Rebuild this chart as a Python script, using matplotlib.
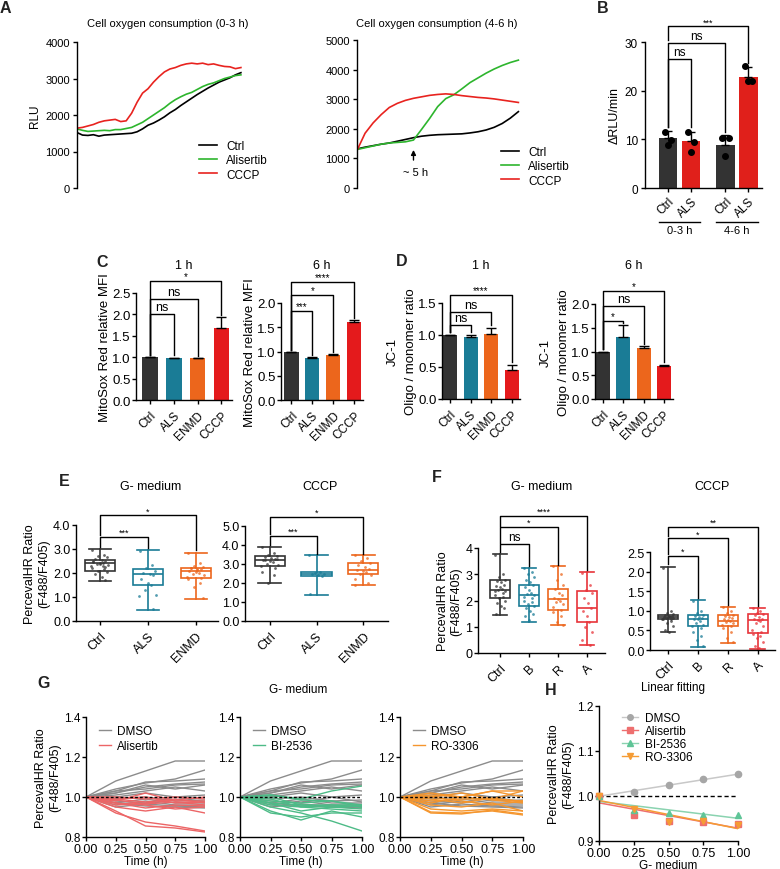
"""
plot.py - multi-panel figure: oxygen consumption, ROS / JC-1 bars, PercevalHR boxes and traces.
"""

import matplotlib
matplotlib.use("Agg")
import matplotlib.pyplot as plt
import matplotlib.transforms as mtransforms
from matplotlib.lines import Line2D
import numpy as np

plt.rcParams["font.family"] = ["Liberation Sans", "DejaVu Sans"]
plt.rcParams["axes.linewidth"] = 1.0
plt.rcParams["xtick.major.width"] = 1.0
plt.rcParams["ytick.major.width"] = 1.0
plt.rcParams["xtick.major.size"] = 3
plt.rcParams["ytick.major.size"] = 3

W, H = 780, 870

# ---------------- data ----------------
# A: oxygen consumption traces (RLU)
a_time_early = np.round(np.arange(0, 3.01, 0.1), 2)
a_ctrl_early = [1520, 1450, 1440, 1460, 1420, 1450, 1460, 1470, 1480, 1490, 1500, 1540, 1620, 1720, 1780, 1860,
                1950, 2060, 2150, 2260, 2360, 2460, 2560, 2650, 2740, 2820, 2900, 2960, 3020, 3100, 3160]
a_als_early = [1620, 1580, 1550, 1560, 1570, 1580, 1570, 1600, 1600, 1630, 1660, 1730, 1800, 1900, 2000, 2100,
               2200, 2320, 2420, 2500, 2570, 2620, 2700, 2780, 2840, 2880, 2940, 3000, 3040, 3080, 3100]
a_cccp_early = [1640, 1660, 1700, 1740, 1800, 1840, 1860, 1880, 1820, 1840, 2050, 2350, 2600, 2720, 2900, 3050,
                3180, 3260, 3300, 3360, 3400, 3420, 3400, 3420, 3380, 3400, 3360, 3330, 3320, 3270, 3300]
a_time_late = np.round(np.arange(4, 6.01, 0.1), 2)
a_ctrl_late = [1320, 1380, 1430, 1480, 1520, 1580, 1640, 1700, 1750, 1780, 1800, 1810, 1820, 1830, 1860, 1900,
               1960, 2050, 2180, 2360, 2580]
a_als_late = [1300, 1360, 1420, 1480, 1520, 1540, 1560, 1620, 1980, 2350, 2750, 3020, 3150, 3350, 3560, 3720,
              3880, 4020, 4140, 4240, 4320]
a_cccp_late = [1270, 1850, 2200, 2480, 2720, 2860, 2960, 3030, 3080, 3130, 3160, 3180, 3160, 3120, 3090, 3060,
               3040, 3010, 2970, 2930, 2890]

# B: delta RLU/min
b_labels = ["Ctrl", "ALS", "Ctrl", "ALS"]
b_means = [10.2, 9.6, 8.9, 22.8]
b_sd = [1.6, 2.0, 2.0, 2.0]
b_points = [[11.6, 9.9, 8.9], [11.5, 9.4, 7.5], [10.3, 10.3, 6.6], [25.0, 22.0, 22.0]]

# C / D: bar means with upper error
cd_labels = ["Ctrl", "ALS", "ENMD", "CCCP"]
c1_means = [1.0, 0.98, 0.97, 1.68]
c1_err = [0.0, 0.01, 0.01, 0.25]
c6_means = [1.0, 0.86, 0.92, 1.61]
c6_err = [0.0, 0.02, 0.02, 0.04]
d1_means = [1.0, 0.97, 1.01, 0.46]
d1_err = [0.0, 0.03, 0.10, 0.07]
d6_means = [1.0, 1.31, 1.07, 0.70]
d6_err = [0.0, 0.25, 0.04, 0.02]

# E / F: box statistics (whislo, q1, med, q3, whishi) and cell values
e_labels = ["Ctrl", "ALS", "ENMD"]
e_g_stats = [[1.65, 2.08, 2.40, 2.55, 3.00], [0.45, 1.50, 1.95, 2.15, 2.95], [0.90, 1.80, 2.10, 2.20, 2.85]]
e_c_stats = [[2.00, 2.90, 3.20, 3.40, 3.90], [1.35, 2.35, 2.50, 2.60, 3.45], [1.90, 2.50, 2.70, 3.05, 3.45]]
e_g_cells = [
    [2.95, 2.75, 2.7, 2.65, 2.6, 2.55, 2.5, 2.45, 2.42, 2.4, 2.38, 2.35, 2.3, 2.25, 2.2, 2.15, 2.1, 2.05, 1.95,
     1.85, 1.7, 2.48, 2.36, 2.28],
    [2.9, 2.35, 2.2, 2.1, 2.0, 1.95, 1.9, 1.75, 1.6, 1.5, 1.3, 1.1, 1.05, 0.5],
    [2.85, 2.4, 2.3, 2.25, 2.2, 2.18, 2.15, 2.1, 2.05, 2.0, 1.95, 1.9, 1.85, 1.8, 1.75, 1.6, 1.4, 0.95, 2.22, 2.12],
]
e_c_cells = [
    [3.9, 3.6, 3.45, 3.4, 3.35, 3.3, 3.25, 3.2, 3.15, 3.1, 3.0, 2.95, 2.9, 2.8, 2.6, 2.4, 2.0, 3.28, 3.22],
    [3.45, 2.6, 2.55, 2.5, 2.45, 2.4, 2.35, 1.4],
    [3.45, 3.3, 3.15, 3.05, 2.95, 2.85, 2.75, 2.7, 2.65, 2.6, 2.5, 2.4, 2.2, 2.0, 1.9],
]
f_labels = ["Ctrl", "B", "R", "A"]
f_g_stats = [[1.45, 2.10, 2.40, 2.78, 3.78], [1.20, 1.80, 2.20, 2.60, 3.25], [1.05, 1.65, 2.05, 2.45, 3.30],
             [0.30, 1.20, 1.70, 2.35, 3.07]]
f_c_stats = [[0.45, 0.78, 0.83, 0.90, 2.12], [0.07, 0.60, 0.78, 0.90, 1.27], [0.18, 0.60, 0.75, 0.90, 1.10],
             [0.03, 0.43, 0.77, 0.93, 1.07]]
f_g_cells = [
    [3.75, 3.0, 2.9, 2.8, 2.75, 2.7, 2.6, 2.55, 2.5, 2.45, 2.4, 2.38, 2.35, 2.3, 2.2, 2.15, 2.1, 2.0, 1.9, 1.8,
     1.7, 1.5],
    [3.25, 3.1, 3.0, 2.9, 2.8, 2.7, 2.6, 2.5, 2.4, 2.3, 2.25, 2.2, 2.15, 2.1, 2.0, 1.95, 1.85, 1.8, 1.7, 1.6, 1.5,
     1.4, 1.25],
    [3.3, 3.0, 2.8, 2.6, 2.45, 2.3, 2.2, 2.1, 2.05, 2.0, 1.95, 1.85, 1.75, 1.65, 1.55, 1.4, 1.2, 1.05],
    [3.05, 2.6, 2.4, 2.3, 2.1, 1.9, 1.7, 1.6, 1.4, 1.2, 1.0, 0.8, 0.5, 0.3],
]
f_c_cells = [
    [2.1, 1.0, 0.95, 0.92, 0.9, 0.88, 0.86, 0.85, 0.84, 0.83, 0.82, 0.81, 0.8, 0.79, 0.78, 0.75, 0.7, 0.6, 0.5,
     0.45],
    [1.25, 1.0, 0.95, 0.9, 0.88, 0.85, 0.82, 0.8, 0.78, 0.75, 0.7, 0.65, 0.6, 0.55, 0.45, 0.35, 0.25, 0.1],
    [1.1, 1.0, 0.95, 0.9, 0.87, 0.85, 0.82, 0.8, 0.77, 0.75, 0.72, 0.7, 0.65, 0.6, 0.55, 0.45, 0.3, 0.2],
    [1.07, 1.0, 0.95, 0.93, 0.9, 0.85, 0.8, 0.78, 0.77, 0.75, 0.7, 0.6, 0.5, 0.45, 0.4, 0.35, 0.3, 0.2, 0.1, 0.05],
]

# G: single-cell PercevalHR traces
g_time = [0.0, 0.25, 0.5, 0.75, 1.0]
g_dmso = [
    [1.0, 1.08, 1.13, 1.18, 1.18], [1.0, 1.04, 1.07, 1.09, 1.135], [1.0, 1.03, 1.075, 1.08, 1.09],
    [1.0, 1.02, 1.05, 1.065, 1.075], [1.0, 1.03, 1.04, 1.06, 1.065], [1.0, 1.02, 1.06, 1.04, 1.06],
    [1.0, 1.01, 1.03, 1.05, 1.03], [1.0, 1.0, 1.02, 1.0, 1.01], [1.0, 0.99, 1.0, 0.98, 0.985],
    [1.0, 0.98, 0.97, 1.0, 0.975], [1.0, 0.97, 0.99, 0.97, 0.97], [1.0, 0.96, 0.98, 0.96, 0.96],
    [1.0, 0.95, 0.965, 0.955, 0.95], [1.0, 0.97, 0.955, 0.95, 0.945],
]
g_alisertib = [
    [1.0, 0.92, 0.875, 0.855, 0.83], [1.0, 0.93, 0.855, 0.845, 0.825], [1.0, 0.95, 0.93, 0.95, 0.92],
    [1.0, 0.97, 0.96, 0.94, 0.95], [1.0, 0.98, 1.02, 0.98, 0.98], [1.0, 1.0, 0.99, 1.0, 0.99],
    [1.0, 0.99, 0.975, 0.99, 0.97], [1.0, 0.985, 0.965, 0.975, 0.96], [1.0, 0.96, 0.97, 0.985, 1.0],
    [1.0, 0.99, 1.0, 0.97, 0.975], [1.0, 0.97, 0.945, 0.96, 0.955],
]
g_bi2536 = [
    [1.0, 1.01, 0.99, 1.03, 1.055], [1.0, 0.95, 0.92, 0.88, 0.83], [1.0, 0.93, 0.885, 0.93, 0.90],
    [1.0, 0.92, 0.90, 0.92, 0.92], [1.0, 0.96, 0.95, 0.94, 0.93], [1.0, 0.97, 0.96, 0.95, 0.94],
    [1.0, 1.0, 0.96, 0.96, 0.95], [1.0, 0.98, 0.97, 0.98, 0.95], [1.0, 0.99, 0.95, 0.96, 0.96],
    [1.0, 1.01, 0.985, 0.98, 0.96], [1.0, 0.97, 0.93, 0.95, 0.955],
]
g_ro3306 = [
    [1.0, 1.02, 1.0, 1.03, 1.03], [1.0, 1.0, 1.02, 0.99, 1.03], [1.0, 1.01, 1.0, 1.03, 1.0],
    [1.0, 0.98, 0.99, 0.99, 0.98], [1.0, 0.99, 0.97, 0.995, 0.975], [1.0, 0.96, 0.95, 0.97, 0.93],
    [1.0, 0.94, 0.93, 0.94, 0.93], [1.0, 0.92, 0.915, 0.935, 0.915], [1.0, 0.925, 0.92, 0.93, 0.91],
    [1.0, 1.0, 0.98, 0.96, 0.98], [1.0, 0.97, 1.0, 0.985, 0.97],
]

# H: mean ratio over time
h_time = [0.0, 0.25, 0.5, 0.75, 1.0]
h_dmso = [1.0, 1.01, 1.025, 1.037, 1.048]
h_alisertib = [1.0, 0.958, 0.945, 0.943, 0.937]
h_bi2536 = [1.0, 0.968, 0.962, 0.958, 0.958]
h_ro3306 = [1.0, 0.972, 0.942, 0.945, 0.935]

# ---------------- style ----------------
C_BLACK = "#333333"
C_TEAL = "#1a7c96"
C_ORANGE = "#ec661c"
C_RED = "#e41a1c"
BOX_COLORS_E = ["#333333", "#1a7c96", "#ec661c"]
BOX_COLORS_F = ["#333333", "#1a7c96", "#ec661c", "#e8343a"]
JITTER = [-0.2, 0.1, -0.05, 0.18, -0.12, 0.04, 0.14, -0.17, 0.0, 0.08, -0.08, 0.2, -0.22, 0.12]

fig = plt.figure(figsize=(W / 100, H / 100), dpi=100)


def px_axes(l, t, r, b):
    ax = fig.add_axes([l / W, 1 - b / H, (r - l) / W, (b - t) / H])
    ax.spines["top"].set_visible(False)
    ax.spines["right"].set_visible(False)
    return ax


def fig_text(x, y, s, **kw):
    fig.text(x / W, 1 - y / H, s, **kw)


def letter(x, y, s):
    fig_text(x, y, s, fontsize=11.5, fontweight="bold", ha="left", va="top", color="#222222")


def bracket(ax, x1, x2, y, y1, y2, label, fs):
    ax.plot([x1, x1, x2, x2], [y1, y, y, y2], color="k", lw=1, clip_on=False)
    ax.annotate(label, ((x1 + x2) / 2, y), xytext=(0, 1 if label == "ns" else 0), textcoords="offset points",
                ha="center", va="bottom", fontsize=fs, annotation_clip=False)


# ---------------- A ----------------
letter(0, 1, "A")
for (l, r), t_arr, series, ymax, title, leg_xy in [
    ((77, 242), a_time_early, [a_ctrl_early, a_als_early, a_cccp_early], 4000, "Cell oxygen consumption (0-3 h)",
     (193, 135)),
    ((357, 520), a_time_late, [a_ctrl_late, a_als_late, a_cccp_late], 5000, "Cell oxygen consumption (4-6 h)",
     (495, 141)),
]:
    top = 43 if ymax == 4000 else 41
    ax = px_axes(l, top, r, 189)
    for vals, col, lab in zip(series, ["k", "#2db52d", "#e8231f"], ["Ctrl", "Alisertib", "CCCP"]):
        ax.plot(t_arr, vals, color=col, lw=1.2, label=lab)
    ax.set_ylim(0, ymax)
    ax.set_xlim(t_arr[0], t_arr[-1] + 0.02)
    ax.set_yticks(np.arange(0, ymax + 1, 1000))
    ax.spines["bottom"].set_visible(False)
    ax.set_xticks([])
    ax.tick_params(axis="y", labelsize=8, pad=2)
    fig_text((l + r) / 2 + (8 if ymax == 4000 else -2), 24, title, ha="center", va="center", fontsize=8)
    if ymax == 4000:
        ax.set_ylabel("RLU", fontsize=8.5, labelpad=3)
    ax.legend(loc="upper left", frameon=False, fontsize=8.5, handlelength=1.5, handletextpad=0.8,
              labelspacing=0.2, borderpad=0,
              bbox_to_anchor=((leg_xy[0] - l) / (r - l), 1 - (leg_xy[1] - top) / (189 - top)))
    if ymax == 5000:
        ax.annotate("", xy=(4.7, 1380), xytext=(4.7, 850),
                    arrowprops=dict(arrowstyle="-|>", color="k", lw=1, mutation_scale=7))
        ax.text(4.72, 720, "~ 5 h", ha="center", va="top", fontsize=8)

# ---------------- B ----------------
letter(597, 1, "B")
axb = px_axes(645, 43, 762, 189)
b_x = [0, 1, 2.5, 3.5]
axb.bar(b_x, b_means, width=0.82, color=[C_BLACK, "#e0201b", C_BLACK, "#e0201b"],
        yerr=[[0, 0, 0, 0], b_sd], capsize=3, error_kw=dict(lw=1, capthick=1))
for xi, pts in zip(b_x, b_points):
    axb.scatter([xi - 0.15, xi + 0.15, xi][:len(pts)], pts, s=16, color="k", zorder=3)
axb.set_xlim(-1.0, 4.09)
axb.set_ylim(0, 30)
axb.set_yticks([0, 10, 20, 30])
axb.set_xticks(b_x)
axb.set_xticklabels(b_labels, rotation=45, ha="right", rotation_mode="anchor", fontsize=8)
axb.tick_params(labelsize=8.5, pad=2)
axb.set_ylabel("\u0394RLU/min", fontsize=9, labelpad=3)
bracket(axb, 0, 1, 26.5, 12.5, 12.5, "ns", 8.5)
bracket(axb, 0, 2.5, 29.8, 12.5, 11.5, "ns", 8.5)
bracket(axb, 0, 3.5, 33.2, 30.5, 25.7, "***", 6.5)
tb = mtransforms.blended_transform_factory(axb.transData, fig.transFigure)
for x1, x2, lab in [(-0.4, 1.4, "0-3 h"), (2.1, 3.9, "4-6 h")]:
    axb.add_line(Line2D([x1, x2], [1 - 223 / H] * 2, transform=tb, color="k", lw=1, clip_on=False))
    axb.text((x1 + x2) / 2, 1 - 226 / H, lab, transform=tb, ha="center", va="top", fontsize=8)

# ---------------- C / D ----------------
cd_colors = [C_BLACK, C_TEAL, C_ORANGE, C_RED]


def bar_panel(box, xlim, means, err, ymax, yticks, title, width):
    l, t, r, b = box
    ax = px_axes(l, t, r, b)
    xs = np.arange(4)
    ax.bar(xs, means, width=width, color=cd_colors, yerr=[[0] * 4, err], capsize=3.5,
           error_kw=dict(lw=1, capthick=1))
    ax.set_xlim(*xlim)
    ax.set_ylim(0, ymax)
    ax.set_yticks(yticks)
    ax.set_yticklabels([f"{v:.1f}" for v in yticks])
    ax.set_xticks(xs)
    ax.set_xticklabels(cd_labels, rotation=45, ha="right", rotation_mode="anchor", fontsize=8.5)
    ax.tick_params(axis="y", labelsize=9.5, pad=1)
    fig_text((l + r) / 2, 266, title, ha="center", va="center", fontsize=9)
    return ax


letter(96, 255, "C")
ax = bar_panel((136, 294, 232, 401), (-0.6, 3.45), c1_means, c1_err, 2.5, [0, 0.5, 1.0, 1.5, 2.0, 2.5], "1 h", 0.66)
ax.set_ylabel("MitoSox Red relative MFI", fontsize=9.5, labelpad=1)
bracket(ax, 0, 1, 2.0, 1.05, 1.05, "ns", 9)
bracket(ax, 0, 2, 2.35, 1.05, 1.03, "ns", 9)
bracket(ax, 0, 3, 2.78, 1.05, 1.98, "*", 7)
ax = bar_panel((281, 304, 363, 401), (-0.5, 3.42), c6_means, c6_err, 2.0, [0, 0.5, 1.0, 1.5, 2.0], "6 h", 0.68)
ax.set_ylabel("MitoSox Red relative MFI", fontsize=9.5, labelpad=1)
bracket(ax, 0, 1, 1.83, 1.04, 0.92, "***", 7)
bracket(ax, 0, 2, 2.17, 1.04, 0.98, "*", 7)
bracket(ax, 0, 3, 2.43, 1.04, 1.70, "****", 7)

letter(396, 254, "D")
ax = bar_panel((442, 304, 520, 400), (-0.4, 3.4), d1_means, d1_err, 1.5, [0, 0.5, 1.0, 1.5], "1 h", 0.7)
ax.set_ylabel("JC-1\nOligo / monomer ratio", fontsize=9.5, labelpad=1, linespacing=1.6)
bracket(ax, 0, 1, 1.15, 1.05, 1.04, "ns", 9)
bracket(ax, 0, 2, 1.36, 1.05, 1.15, "ns", 9)
bracket(ax, 0, 3, 1.62, 1.05, 0.58, "****", 7)
ax = bar_panel((595, 305, 673, 400), (-0.4, 3.45), d6_means, d6_err, 2.0, [0, 0.5, 1.0, 1.5, 2.0], "6 h", 0.7)
ax.set_ylabel("JC-1\nOligo / monomer ratio", fontsize=9.5, labelpad=1, linespacing=1.6)
bracket(ax, 0, 1, 1.64, 1.06, 1.6, "*", 7)
bracket(ax, 0, 2, 1.96, 1.06, 1.15, "ns", 9)
bracket(ax, 0, 3, 2.28, 1.06, 0.77, "*", 7)


# ---------------- E / F ----------------
def box_panel(box, xlim, stats, cells, colors, labels, ymax, yticks, fmt, title, width):
    l, t, r, b = box
    ax = px_axes(l, t, r, b)
    for i, (st, vals, col) in enumerate(zip(stats, cells, colors)):
        bx = dict(whislo=st[0], q1=st[1], med=st[2], q3=st[3], whishi=st[4], fliers=[])
        ax.bxp([bx], positions=[i], widths=width, showfliers=False, patch_artist=True,
               boxprops=dict(facecolor="white", edgecolor=col, lw=1.2),
               medianprops=dict(color=col, lw=1.2), whiskerprops=dict(color=col, lw=1.2),
               capprops=dict(color=col, lw=1.2), capwidths=width * 0.75)
        offs = [JITTER[k % len(JITTER)] * width * 1.3 for k in range(len(vals))]
        ax.scatter(np.array(offs) + i, vals, s=4, color=col, alpha=0.75, lw=0, zorder=3)
    ax.set_xlim(*xlim)
    ax.set_ylim(0, ymax)
    ax.set_yticks(yticks)
    ax.set_yticklabels([fmt.format(v) for v in yticks])
    ax.set_xticks(range(len(labels)))
    ax.set_xticklabels(labels, rotation=45, ha="right", rotation_mode="anchor", fontsize=9)
    ax.tick_params(axis="y", labelsize=9, pad=1)
    fig_text((l + r) / 2 + (4 if len(labels) == 3 else 0), 487, title, ha="center", va="center", fontsize=9)
    return ax


letter(59, 474, "E")
ax = box_panel((76, 526, 218, 622), (-0.5, 2.46), e_g_stats, e_g_cells, BOX_COLORS_E, e_labels, 4.0,
               [0, 1.0, 2.0, 3.0, 4.0], "{:.1f}", "G- medium", 0.62)
ax.set_ylabel("PercevalHR Ratio\n(F488/F405)", fontsize=9, labelpad=2)
bracket(ax, 0, 1, 3.5, 3.1, 3.05, "***", 6.5)
bracket(ax, 0, 2, 4.4, 3.6, 2.95, "*", 6.5)
ax = box_panel((245, 527, 388, 622), (-0.53, 2.53), e_c_stats, e_c_cells, BOX_COLORS_E, e_labels, 5.0,
               [0, 1.0, 2.0, 3.0, 4.0, 5.0], "{:.1f}", "CCCP", 0.65)
bracket(ax, 0, 1, 4.47, 4.0, 3.55, "***", 6.5)
bracket(ax, 0, 2, 5.5, 4.6, 3.55, "*", 6.5)

letter(432, 470, "F")
ax = box_panel((478, 549, 605, 654), (-0.76, 3.62), f_g_stats, f_g_cells, BOX_COLORS_F, f_labels, 4.0,
               [0, 1, 2, 3, 4], "{:.0f}", "G- medium", 0.66)
ax.set_ylabel("PercevalHR Ratio\n(F488/F405)", fontsize=9, labelpad=2)
bracket(ax, 0, 1, 4.15, 3.85, 3.3, "ns", 8.5)
bracket(ax, 0, 2, 4.8, 4.2, 3.35, "*", 6.5)
bracket(ax, 0, 3, 5.22, 4.85, 3.15, "****", 6.5)
ax = box_panel((650, 553, 775, 651), (-0.6, 3.57), f_c_stats, f_c_cells, BOX_COLORS_F, f_labels, 2.5,
               [0, 0.5, 1.0, 1.5, 2.0, 2.5], "{:.1f}", "CCCP", 0.66)
bracket(ax, 0, 1, 2.4, 2.2, 1.32, "*", 6.5)
bracket(ax, 0, 2, 2.85, 2.45, 1.15, "*", 6.5)
bracket(ax, 0, 3, 3.15, 2.9, 1.12, "**", 6.5)

# ---------------- G ----------------
letter(37, 676, "G")
fig_text(298, 690, "G- medium", ha="center", va="center", fontsize=8.5)
g_sets = [(g_alisertib, "#ec6566", "Alisertib"), (g_bi2536, "#4dbb87", "BI-2536"), (g_ro3306, "#f5962e", "RO-3306")]
for k, ((l, r), (tr, col, lab)) in enumerate(zip([(86, 205), (240, 362), (400, 523)], g_sets)):
    ax = px_axes(l, 718, r, 838)
    for vals in g_dmso:
        ax.plot(g_time, vals, color="#8c8c8c", lw=1)
    for vals in tr:
        ax.plot(g_time, vals, color=col, lw=1)
    ax.axhline(1.0, color="k", lw=1, ls=(0, (2, 1.5)))
    ax.set_xlim(0, 1)
    ax.set_ylim(0.8, 1.4)
    ax.set_yticks([0.8, 1.0, 1.2, 1.4])
    ax.set_xticks(g_time)
    ax.set_xticklabels([f"{v:.2f}" for v in g_time])
    ax.tick_params(axis="x", labelsize=9, pad=1)
    ax.tick_params(axis="y", labelsize=8.5, pad=1)
    ax.set_xlabel("Time (h)", fontsize=8.5, labelpad=0)
    handles = [Line2D([], [], color="#8c8c8c", lw=1), Line2D([], [], color=col, lw=1)]
    ax.legend(handles, ["DMSO", lab], loc="upper left", frameon=False, fontsize=8.5, handlelength=1.0,
              handletextpad=0.5, labelspacing=0.2, borderpad=0, bbox_to_anchor=(0.06, 0.98))
    if k == 0:
        ax.set_ylabel("PercevalHR Ratio\n(F488/F405)", fontsize=9, labelpad=2)

# ---------------- H ----------------
letter(545, 683, "H")
axh = px_axes(599, 707, 738, 842)
fig_text(673, 688, "Linear fitting", ha="center", va="center", fontsize=8.5)
axh.axhline(1.0, color="k", lw=1, ls=(0, (3, 2)))
h_sets = [(h_dmso, "#a6a6a6", "#c8c8c8", "o", "DMSO"), (h_alisertib, "#ee6f6f", "#ee6f6f", "s", "Alisertib"),
          (h_bi2536, "#5fc597", "#8ad3b0", "^", "BI-2536"), (h_ro3306, "#f59c35", "#f59c35", "v", "RO-3306")]
handles = []
for vals, col, lcol, mk, lab in h_sets:
    slope, icpt = np.polyfit(h_time, vals, 1)
    fx = np.array([0.0, 1.0])
    axh.plot(fx, slope * fx + icpt, color=lcol, lw=1.1, zorder=2)
    axh.plot(h_time, vals, mk, color=col, ms=4.5, ls="none", zorder=3, clip_on=False)
    handles.append(Line2D([], [], color=lcol, lw=1, marker=mk, ms=4, markerfacecolor=col, markeredgecolor=col))
axh.set_xlim(0, 1.0)
axh.set_ylim(0.9, 1.2)
axh.set_yticks([0.9, 1.0, 1.1, 1.2])
axh.set_xticks(h_time)
axh.set_xticklabels([f"{v:.2f}" for v in h_time])
axh.tick_params(axis="x", labelsize=9, pad=1)
axh.tick_params(axis="y", labelsize=8.5, pad=1)
axh.set_xlabel("G- medium", fontsize=8.5, labelpad=0)
axh.set_ylabel("PercevalHR Ratio\n(F488/F405)", fontsize=9, labelpad=2)
axh.legend(handles, [s[4] for s in h_sets], loc="upper left", frameon=False, fontsize=8.5, handlelength=1.4,
           handletextpad=0.6, labelspacing=0.1, borderpad=0, bbox_to_anchor=(0.12, 1.0))

fig.savefig("out.png", dpi=100)
